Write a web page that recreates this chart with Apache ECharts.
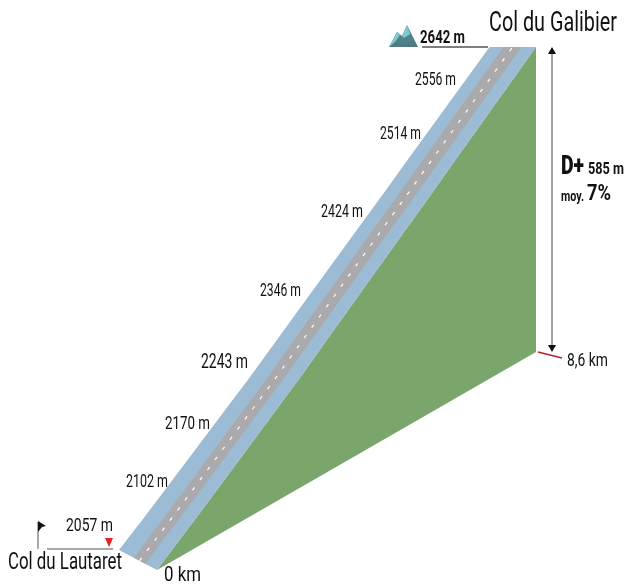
<!DOCTYPE html>
<html><head><meta charset="utf-8">
<style>html,body{margin:0;padding:0;background:#fff}#c{width:626px;height:584px}</style>
<script src="https://cdn.jsdelivr.net/npm/echarts@6/dist/echarts.min.js"></script>
</head><body><div id="c"></div>
<script>
// Profile of the climb
const profileKm   = [0, 0.7, 0.82, 1.75, 2.86, 3.2, 4.36, 5.48, 6.29, 6.77, 7.37, 8.6];
const profileElev = [2057, 2102, 2109, 2170, 2243, 2265, 2346, 2424, 2480, 2514, 2556, 2642];
// Texts
const elevLabels = ['2102 m','2170 m','2243 m','2346 m','2424 m','2514 m','2556 m'];
const startName = 'Col du Lautaret', endName = 'Col du Galibier';
const startElev = '2057 m', endElev = '2642 m';
const startKm = '0 km', endKm = '8,6 km';
const gain = '585 m', mean = '7%';

const totalKm = 8.6, minElev = 2057, maxElev = 2642;
const shear = (218 / totalKm) / (305 / (maxElev - minElev)); // oblique projection: metres per km
const colors = {green:'#7aa66b', blue:'#9bbcd4', road:'#aaaaac', ink:'#111', rule:'#555', red:'#b5202a'};

const chart = echarts.init(document.getElementById('c'), null, {renderer:'canvas'});

function edge(api, i, f) {               // f: 0 = near edge, 1 = far edge of the ribbon
  const km = profileKm[i];
  const c = api.coord([km, profileElev[i] + km * shear]);
  if (i === 0) return [c[0] - 38 * f, c[1] - 20 * f];
  return [c[0] - (53 - 0.76 * km) * f, c[1]];
}
function band(api, fa, fb, fill) {
  const n = profileKm.length, pts = [];
  const fB = i => typeof fb === 'function' ? fb(profileKm[i]) : fb;
  for (let i = 0; i < n; i++) pts.push(edge(api, i, fa));
  for (let i = n - 1; i >= 0; i--) pts.push(edge(api, i, fB(i)));
  return {type:'polygon', shape:{points:pts}, style:{fill}, silent:true};
}
const roadNear = 0.31, roadFar = km => 0.61 + 0.09 * km / totalKm;

const series = [{
  type:'custom', coordinateSystem:'cartesian2d', clip:false, silent:true,
  data:[[0, minElev]], encode:{x:0, y:1},
  renderItem(params, api) {
    const n = profileKm.length, face = [];
    for (let i = 0; i < n; i++) face.push(edge(api, i, 0));
    face.push(api.coord([totalKm, minElev + totalKm * shear]));
    const mid = [];
    for (let i = 0; i < n; i++) mid.push(edge(api, i, (roadNear + roadFar(profileKm[i])) / 2));
    return {type:'group', children:[
      {type:'polygon', shape:{points:face}, style:{fill:colors.green}},
      band(api, 0, 1, colors.blue),
      band(api, roadNear, roadFar, colors.road),
      {type:'polyline', shape:{points:mid}, style:{stroke:'#fff', lineWidth:1.2, lineDash:[3.6,9], fill:null}}
    ]};
  }
}];

// text helper: fits real text to a measured width (the original face is condensed)
const mctx = document.createElement('canvas').getContext('2d');
function fit(text, x0, x1, yc, size, weight) {
  const w = weight || 400;
  mctx.font = w + ' ' + size + 'px Roboto';
  const sx = (x1 - x0) / mctx.measureText(text).width;
  return {type:'text', x:x0, y:yc, scaleX:sx, silent:true, z:10,
    style:{text, font:w + ' ' + size + 'px Roboto', fill:colors.ink, textAlign:'left', textVerticalAlign:'middle'}};
}
const labelBox = [[126,168,482,18],[165,210,424,19],[201,248,363,20],[260,301,291,18],[321,363,212,18],[380,421,134,18],[415,456,80,18]];
const graphics = elevLabels.map((t,i)=>fit(t,labelBox[i][0],labelBox[i][1],labelBox[i][2],labelBox[i][3]));
graphics.push(
  fit(endName,489,617,24,27), fit(startName,8,122,563,23),
  fit(startElev,66,113,526,19), fit(endElev,420,465,38,18,700),
  fit(startKm,164,201,576,21), fit(endKm,567,608,361,19),
  fit('D+',561,584,167,26,900), fit(gain,588,624,170,16,700),
  fit('moy.',561,584,197,14,700), fit(mean,587,611,194,22,700),
  // rules
  {type:'line',shape:{x1:47,y1:549,x2:113,y2:549},style:{stroke:colors.rule,lineWidth:1}},
  {type:'line',shape:{x1:422,y1:47,x2:488,y2:47},style:{stroke:colors.rule,lineWidth:1.5}},
  {type:'line',shape:{x1:538,y1:352,x2:562,y2:358},style:{stroke:colors.red,lineWidth:1.3}},
  // red marker
  {type:'polygon',shape:{points:[[105,538],[113,538],[109,547]]},style:{fill:'#e8202a'}},
  // flag
  {type:'line',shape:{x1:38,y1:522,x2:38,y2:549},style:{stroke:'#555',lineWidth:1}},
  {type:'polygon',shape:{points:[[38,521],[46,526],[42,527],[38,532]]},style:{fill:'#111'}},
  // height arrow
  {type:'line',shape:{x1:552,y1:50,x2:552,y2:346},style:{stroke:'#444',lineWidth:1}},
  {type:'polygon',shape:{points:[[552,47],[548,54],[556,54]]},style:{fill:'#111'}},
  {type:'polygon',shape:{points:[[552,352],[548,345],[556,345]]},style:{fill:'#111'}},
  // mountain icon
  {type:'polygon',shape:{points:[[389,47],[397,32],[402,36],[407,25],[418,47]]},
    style:{fill:new echarts.graphic.LinearGradient(0,0,0,1,[{offset:0,color:'#5a8f97'},{offset:1,color:'#4d7a82'}])}},
  {type:'polygon',shape:{points:[[389,47],[397,32],[400,35],[395,42]]},style:{fill:'#7fc8cd'}},
  {type:'polygon',shape:{points:[[407,25],[402,36],[404,38],[410,34]]},style:{fill:'#7fc8cd'}}
);

chart.setOption({
  animation:false,
  grid:{left:157, top:47, width:379, height:523, containLabel:false},
  xAxis:{type:'value', min:0, max:totalKm, show:false},
  yAxis:{type:'value', min:minElev, max:maxElev + totalKm * shear, show:false},
  series, graphic:graphics
});
</script></body></html>
